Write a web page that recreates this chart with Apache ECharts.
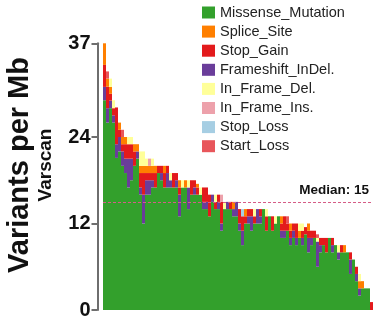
<!DOCTYPE html>
<html>
<head>
<meta charset="utf-8">
<script src="https://cdn.jsdelivr.net/npm/echarts@6/dist/echarts.min.js"></script>
<style>
  html, body { margin: 0; padding: 0; background: #fff; }
  #chart { width: 373px; height: 320px; }
</style>
</head>
<body>
<div id="chart"></div>
<script>
// Variants per Mb for each sample, split by mutation class (samples sorted by total burden)
const missense = [29.1,26.0,28.0,26.0,21.1,22,20,19,17,18,20,21,16,12,16,16,17,17,19,18,17,17,17,17,17,13,17,17,14,16,
                  16,16,16,14,14,13,15,14,14,11,14,14,14,13,13,11,9,12,12,11,12,12,12,14,11,13,11,12,13,10,
                  10,11,9,10,9,10,9,10.5,8,9,10,6,8,9,8,10,8,9,7,8,8,8,5,7,4,2,3,3,3,0];
const frameshift = [1.85,2.0,1.05,1.0,1.9,2,2,2,4,3,0,1,1,4,2,2,1,0,0,1,0,2,1,0,1,3,0,0,3,0,
                    1,0,0,1,1,0,1,0,1,1,0,1,0,1,2,1,2,0,1,2,0,2,1,0,0,0,0,0,0,1,
                    1,0,1,1,1,0,1,0,2,1,0,3.5,1,0,0,0,1,0,1,0,0,0,2,0,1,1,0,0,0,0];
const stopGain = [3.05,3.0,0.95,1.0,5.1,1,1,2,2,2,2,0,2,3,1,1,1,2,1,1,2,1,0,2,1,1,0,0,0,2,
                  1,1,0,2,2,3,0,1,1,3,0,0,1,0,0,2,2,1,1,1,1,0,1,0,2,0,2,0,0,1,
                  2,1,1,1,2,0,1,1,1,1,1,0,1,1,2,0,1,0,0,1,0,0,1,0,1,0,0,0,0,1.1];
const splice = [3.0,1.1,0.95,0,0,1,1,1,0,0,1,1,1,1,1,1,1,1,0,0,1,0,0,0,0,1,0,1,0,0,
                0,0.5,0,0,0,0,0,0,0,0,0,0,0,1,0,0,0,1,0,0,0,0,0,0,0,0,0,0,0,1,
                0,0,1,0,0,1,0,0,1,0,0,0,0,0,0,0,0,0,0,0,1,0,0,0,0,1,1,0,0,0];
const inFrameDel = [0,0,1.15,1.1,0,0,0,0,1,1,0,0,2,2,1,0,1,0,0,0,0,0,1,0,0,0,1,0,1,0,
                    0,0,1,0,0,0,0,1,0,0,1,0,0,0,0,0,0,0,0,0,1,0,0,0,1,0,0,1,0,0,
                    0,0,0,0,0,1,1,0,0,0,0,0.5,0,0,0,0,0,0,1,0,0,0,0,0,0,1,0,0,0,0];
const inFrameIns = [0,0,0,0,0,0,0,0,0,0,0,0,0,0,0,1,0,0,0,0,0,0,0,0,0,0,0,0,0,0,
                    0,0,0,0,0,0,0,0,0,1,0,0,0,0,0,0,0,0,0,0,0,0,0,0,0,0,0,0,0,0,
                    0,0,0,0,0,0,0,0,0,0,0,0,0,0,0,0,0,0,0,0,0,0,0,0,0,0,0,0,0,0];
const stopLoss = [0,0,0,0,0,0,0,0,0,0,0,0,0,0,0,0,0,0,0,0,0,0,0,0,0,0,0,0,0,0,
                  0,0,0,0,0,0,0,0,0,0,0,0,0,0,0,0,1,0,0,0,0,0,0,0,0,0,0,0,0,0,
                  0,0,0,0,0,0,0,0,0,0,0,0,0,0,0,0,0,0,0,0,0,0,0,0,0,0,0,0,0,0];
const startLoss = [0,1.0,0,0,0,0,1,0,0,0,0,0,0,0,0,0,0,0,0,0,0,0,0,0,0,0,0,0,0,0,
                   0,0,0,0,0,0,0,0,0,0,0,0,0,0,0,0,0,0,0,0,0,0,0,0,0,0,0,0,0,0,
                   0,1,0,0,0,0,0,0,0,0,0,0.5,0,0,0,0,0,0,0,0,0,0,0,0,0,0,0,0,0,0];

const samples = missense.map((_, i) => 'S' + (i + 1));
const yTicks = [0, 12, 24, 37];
const medianValue = 15;

// Drawing order inside each bar, bottom to top
const layers = [
  { name: 'Missense_Mutation', data: missense,   color: '#33A02C' },
  { name: 'Frameshift_InDel.', data: frameshift, color: '#6A3D9A' },
  { name: 'Stop_Gain',         data: stopGain,   color: '#E31A1C' },
  { name: 'Splice_Site',       data: splice,     color: '#FF7F00' },
  { name: 'In_Frame_Del.',     data: inFrameDel, color: '#FFFF99' },
  { name: 'In_Frame_Ins.',     data: inFrameIns, color: '#EDA1AB' },
  { name: 'Stop_Loss',         data: stopLoss,   color: '#A6CEE3' },
  { name: 'Start_Loss',        data: startLoss,  color: '#E8565B' }
];
const legendOrder = ['Missense_Mutation', 'Splice_Site', 'Stop_Gain', 'Frameshift_InDel.',
                     'In_Frame_Del.', 'In_Frame_Ins.', 'Stop_Loss', 'Start_Loss'];

const FONT = '"Liberation Sans", Arial, Helvetica, sans-serif';

const series = layers.map((l, k) => {
  const s = {
    name: l.name,
    type: 'bar',
    stack: 'total',
    data: l.data,
    barWidth: '100%',
    itemStyle: { color: l.color },
    emphasis: { disabled: true },
    animation: false
  };
  if (k === 0) {
    s.markLine = {
      silent: true,
      symbol: 'none',
      animation: false,
      lineStyle: { type: [3, 2], color: '#D65C86', width: 1 },
      label: {
        show: true,
        position: 'insideEndTop',
        formatter: 'Median: ' + medianValue,
        fontFamily: FONT,
        fontWeight: 'bold',
        fontSize: 13.5,
        color: '#111',
        distance: [4, 5]
      },
      data: [{ yAxis: medianValue }]
    };
  }
  return s;
});

const chart = echarts.init(document.getElementById('chart'), null, { renderer: 'canvas' });
chart.setOption({
  animation: false,
  backgroundColor: '#fff',
  // 90 samples x 3 px: whole-pixel bands keep neighbouring bars seamless
  grid: { left: 103, right: 0, top: 43.3, bottom: 8.3 },
  legend: {
    data: legendOrder,
    orient: 'vertical',
    left: 202,
    top: 5,
    padding: 0,
    itemWidth: 13,
    itemHeight: 12,
    itemGap: 4.1,
    icon: 'rect',
    selectedMode: false,
    textStyle: { fontFamily: FONT, fontSize: 14.5, lineHeight: 14, color: '#222', padding: [0, 0, 0, 0] }
  },
  xAxis: {
    type: 'category',
    data: samples,
    axisLine: { show: false },
    axisTick: { show: false },
    axisLabel: { show: false },
    splitLine: { show: false }
  },
  yAxis: {
    type: 'value',
    min: 0,
    max: 37,
    offset: 5.5,
    axisLine: { show: true, lineStyle: { color: '#6e6e6e', width: 2 } },
    axisTick: { show: true, length: 6, lineStyle: { color: '#6e6e6e', width: 2 }, customValues: yTicks },
    axisLabel: {
      customValues: yTicks,
      margin: 7,
      fontFamily: FONT,
      fontWeight: 'bold',
      fontSize: 20,
      color: '#111'
    },
    splitLine: { show: false }
  },
  graphic: [
    {
      type: 'text',
      x: 20, y: 165,
      rotation: Math.PI / 2,
      style: {
        text: 'Variants per Mb',
        fontFamily: FONT, fontWeight: 'bold', fontSize: 29,
        fill: '#111', align: 'center', verticalAlign: 'middle'
      }
    },
    {
      type: 'text',
      x: 46, y: 165,
      rotation: Math.PI / 2,
      style: {
        text: 'Varscan',
        fontFamily: FONT, fontWeight: 'bold', fontSize: 19,
        fill: '#111', align: 'center', verticalAlign: 'middle'
      }
    }
  ],
  series: series
});
</script>
</body>
</html>
